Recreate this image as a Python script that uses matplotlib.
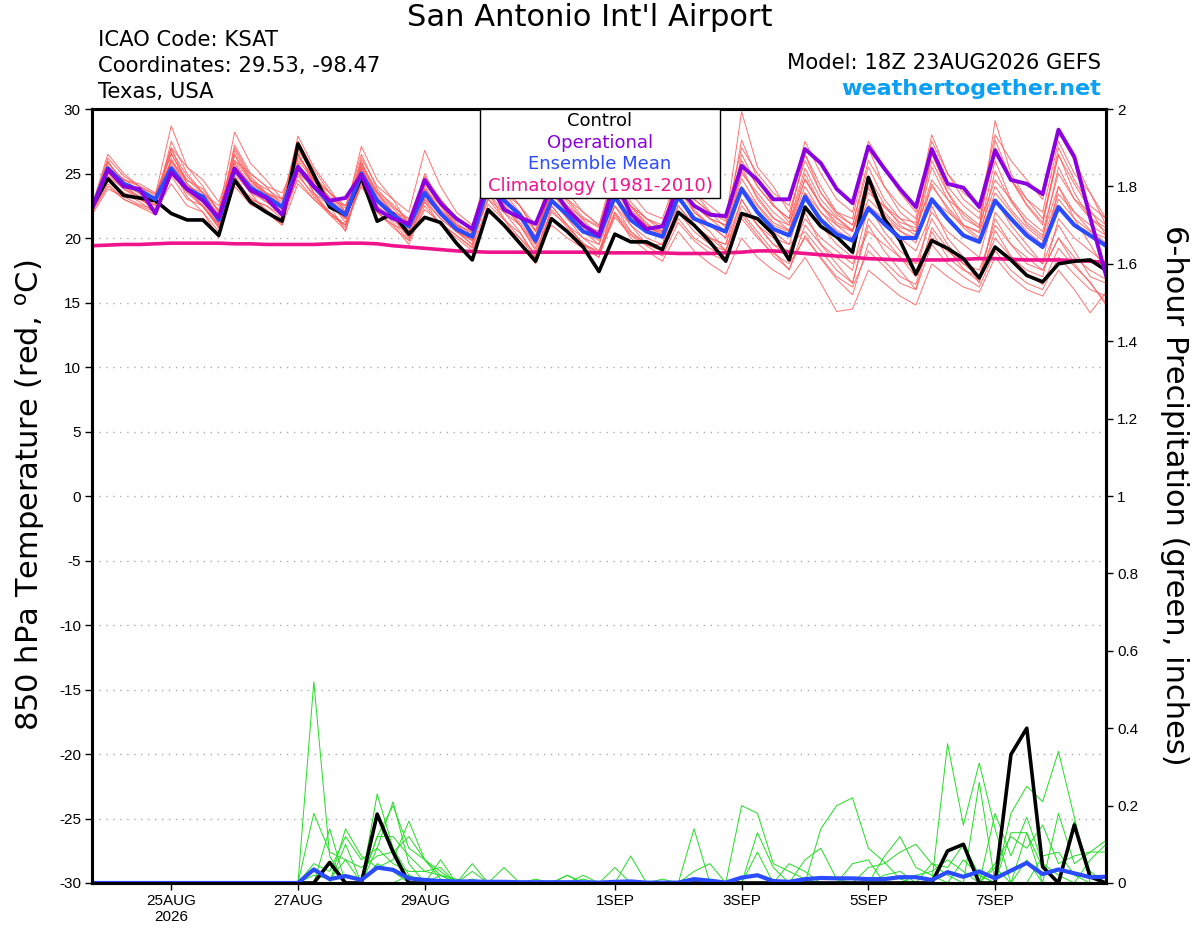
import numpy as np
import matplotlib
matplotlib.use("Agg")
import matplotlib.pyplot as plt
from matplotlib.patches import Rectangle

plt.rcParams['font.family'] = ['Liberation Sans', 'DejaVu Sans']
WIDE = ['DejaVu Sans']

# 6-hourly steps from 18Z 23AUG2026 (hours since start)
hours = np.arange(0, 385, 6)

tick_hours = [30, 78, 126, 198, 246, 294, 342]
tick_labels = ["25AUG\n2026", "27AUG", "29AUG", "1SEP", "3SEP", "5SEP", "7SEP"]

# 850 hPa temperature (C)
control_t = [22.4,
             24.6, 23.3, 23.1, 22.9, 21.9, 21.4, 21.4, 20.2,
             24.5, 22.8, 22.0, 21.3, 27.3, 24.9, 22.4, 21.8,
             24.7, 21.3, 21.9, 20.3, 21.6, 21.2, 19.6, 18.3,
             22.2, 21.0, 19.6, 18.2, 21.5, 20.5, 19.3, 17.4,
             20.3, 19.7, 19.7, 19.1, 22.0, 21.0, 19.7, 18.2,
             21.9, 21.5, 20.3, 18.3, 22.4, 20.9, 20.1, 18.9,
             24.7, 21.5, 19.8, 17.2, 19.8, 19.2, 18.4, 16.9,
             19.3, 18.3, 17.1, 16.6, 18.0, 18.2, 18.3, 17.5]
oper_t = [22.3,
          25.3, 24.0, 23.8, 21.9, 25.1, 23.8, 22.9, 21.6,
          25.4, 23.7, 23.1, 21.8, 25.5, 24.0, 22.9, 23.1,
          24.9, 22.2, 21.5, 21.1, 24.5, 22.7, 21.5, 20.7,
          24.5, 22.2, 21.6, 21.1, 24.0, 22.2, 21.0, 20.2,
          24.5, 21.9, 20.7, 20.9, 24.0, 22.5, 21.8, 21.7,
          25.6, 24.5, 23.0, 23.0, 26.9, 25.8, 23.8, 22.7,
          27.1, 25.4, 23.8, 22.4, 26.9, 24.2, 23.9, 22.4,
          26.8, 24.5, 24.2, 23.4, 28.4, 26.3, 21.6, 17.1]
mean_t = [22.3,
          25.4, 24.2, 23.7, 23.0, 25.4, 23.8, 23.2, 21.4,
          25.3, 23.9, 23.2, 22.4, 25.5, 24.0, 22.7, 21.8,
          25.0, 22.9, 21.8, 20.9, 23.5, 21.9, 20.7, 20.1,
          24.0, 22.9, 21.8, 19.8, 22.9, 21.8, 20.5, 20.1,
          23.2, 21.4, 20.5, 20.1, 23.2, 21.5, 21.0, 20.5,
          23.8, 22.0, 20.7, 20.2, 23.2, 21.4, 20.3, 19.8,
          22.3, 21.1, 20.0, 20.0, 23.0, 21.5, 20.2, 19.7,
          22.9, 21.5, 20.2, 19.3, 22.4, 21.0, 20.2, 19.4]
clim_t = [19.4, 19.45, 19.5, 19.5, 19.55, 19.6, 19.6, 19.6, 19.6, 19.55, 19.55,
          19.5, 19.5, 19.5, 19.5, 19.55, 19.6, 19.6, 19.55, 19.4, 19.3,
          19.2, 19.1, 19.0, 18.95, 18.9, 18.9, 18.9, 18.9, 18.9, 18.9,
          18.9, 18.85, 18.85, 18.85, 18.85, 18.85, 18.8, 18.8, 18.8, 18.85,
          18.9, 19.0, 19.0, 18.9, 18.8, 18.7, 18.6, 18.5, 18.4, 18.35,
          18.3, 18.3, 18.3, 18.3, 18.35, 18.4, 18.4, 18.35, 18.3, 18.3,
          18.3, 18.25, 18.2, 18.1]

member_t = [
    [22.4, 26.2, 24.8, 24.0, 23.3, 28.7, 25.5, 24.0, 22.0, 28.2, 25.8, 24.5, 23.0,
     27.5, 25.3, 23.5, 22.3, 26.5, 23.8, 22.4, 21.5, 24.8, 23.0, 21.5, 20.8,
     25.5, 24.0, 22.5, 20.6, 24.5, 23.0, 21.6, 20.9, 25.0, 22.8, 21.5, 21.0,
     24.8, 23.0, 22.0, 21.3, 29.8, 25.5, 24.0, 22.0, 26.0, 23.5, 21.8, 21.0,
     25.5, 23.0, 21.5, 21.2, 26.0, 23.5, 21.5, 20.8, 29.1, 25.0, 23.0, 21.5,
     26.5, 23.5, 21.5, 20.5],
    [21.8, 23.8, 23.2, 22.6, 22.2, 24.2, 22.5, 22.0, 20.5, 24.0, 22.6, 22.0, 21.0,
     24.2, 23.0, 21.8, 21.0, 24.0, 22.0, 21.0, 19.5, 22.5, 21.0, 20.0, 19.0,
     22.0, 21.0, 20.0, 18.5, 21.5, 20.5, 19.5, 18.8, 21.8, 20.3, 19.5, 19.0,
     21.5, 20.0, 19.2, 18.5, 21.5, 20.0, 18.8, 18.0, 20.0, 18.5, 17.0, 16.2,
     19.0, 17.8, 16.5, 16.0, 19.5, 18.0, 17.0, 16.2, 19.0, 17.5, 16.5, 16.0,
     18.5, 17.2, 16.0, 15.5],
    [22.0, 24.5, 23.5, 22.8, 22.0, 25.0, 23.5, 22.5, 21.0, 24.5, 23.0, 22.5, 21.8,
     25.0, 23.2, 22.0, 20.8, 24.5, 22.0, 20.8, 19.8, 22.8, 21.0, 20.2, 19.3,
     23.5, 21.5, 20.0, 18.8, 21.0, 20.0, 19.2, 18.5, 22.0, 20.0, 19.0, 18.2,
     20.5, 19.0, 18.0, 17.2, 20.0, 18.5, 17.5, 16.8, 18.5, 16.5, 14.3, 14.5,
     17.5, 16.5, 15.5, 14.8, 18.0, 17.0, 16.2, 15.8, 18.5, 17.0, 16.0, 15.5,
     17.5, 16.0, 14.2, 15.8],
    [22.2, 25.8, 24.5, 24.0, 23.4, 26.5, 24.5, 23.8, 22.0, 26.0, 24.5, 23.8, 23.0,
     26.2, 24.8, 23.5, 22.5, 25.8, 23.5, 22.3, 21.0, 24.2, 22.5, 21.0, 20.5,
     25.0, 23.5, 22.5, 20.5, 23.5, 22.5, 21.0, 20.5, 24.5, 22.0, 21.0, 20.5,
     24.0, 22.5, 21.5, 21.0, 25.5, 23.0, 21.5, 21.0, 25.0, 22.5, 21.0, 20.5,
     24.5, 22.0, 20.8, 20.5, 25.5, 23.0, 21.0, 20.5, 26.0, 23.0, 21.0, 20.0,
     25.5, 23.0, 21.5, 20.8],
    [22.5, 26.0, 24.0, 23.5, 22.5, 27.5, 25.0, 23.5, 21.5, 27.0, 24.8, 23.5, 22.5,
     26.8, 25.0, 23.0, 21.5, 26.0, 23.0, 21.5, 20.5, 24.0, 22.0, 20.5, 20.0,
     25.5, 23.5, 22.0, 19.5, 24.0, 22.0, 20.5, 19.8, 24.5, 22.5, 21.0, 20.0,
     24.5, 22.0, 21.0, 20.0, 26.5, 24.0, 22.5, 21.5, 26.5, 24.0, 22.0, 21.0,
     26.0, 24.0, 22.5, 21.5, 27.5, 25.0, 23.0, 22.0, 27.0, 24.5, 23.0, 22.0,
     27.5, 25.0, 23.5, 21.0],
    [22.0, 24.8, 23.8, 23.0, 22.3, 24.8, 23.0, 22.5, 20.8, 25.0, 23.5, 22.8, 22.0,
     24.5, 23.0, 22.0, 21.0, 24.2, 22.0, 21.0, 20.5, 22.8, 21.5, 20.5, 19.8,
     23.0, 22.0, 21.0, 19.0, 22.0, 21.0, 20.0, 19.5, 22.5, 20.5, 19.5, 19.0,
     22.0, 20.5, 19.5, 19.0, 22.5, 21.0, 19.5, 18.5, 21.5, 20.0, 19.0, 18.0,
     20.5, 19.5, 18.5, 17.5, 20.0, 19.0, 18.0, 17.5, 21.0, 19.5, 18.5, 17.5,
     20.0, 18.5, 17.5, 16.8],
    [22.3, 25.5, 24.0, 23.2, 22.8, 26.0, 24.2, 23.0, 21.5, 27.2, 25.0, 24.0, 22.5,
     27.9, 25.5, 23.8, 22.0, 27.1, 24.5, 23.0, 22.0, 26.8, 24.0, 22.0, 21.0,
     25.0, 23.0, 21.5, 20.0, 24.5, 23.0, 22.0, 21.0, 25.5, 23.5, 22.0, 21.5,
     25.0, 23.5, 22.5, 21.5, 27.0, 25.0, 23.5, 22.5, 27.5, 25.0, 23.0, 22.0,
     27.5, 25.5, 23.5, 22.0, 28.0, 25.0, 23.5, 22.5, 28.0, 26.0, 24.5, 23.0,
     28.2, 26.0, 23.5, 21.5],
    [22.1, 24.5, 23.5, 23.0, 22.5, 25.5, 23.2, 22.0, 20.0, 25.5, 23.5, 22.0, 21.0,
     26.5, 24.5, 22.5, 21.5, 24.8, 22.5, 21.5, 20.0, 23.0, 22.0, 20.5, 19.5,
     23.5, 22.0, 20.5, 18.5, 23.0, 21.5, 20.0, 19.0, 22.5, 21.0, 20.0, 19.5,
     23.0, 21.5, 20.5, 19.0, 22.0, 20.5, 19.0, 17.5, 21.0, 19.5, 18.5, 17.5,
     22.5, 20.5, 19.0, 18.0, 21.5, 19.5, 18.0, 17.0, 20.0, 18.5, 17.5, 17.0,
     21.5, 20.0, 19.0, 18.0],
    [22.4, 25.0, 24.5, 24.2, 23.5, 25.8, 24.0, 23.5, 22.5, 25.5, 24.2, 23.5, 23.0,
     25.0, 24.0, 23.0, 22.5, 25.5, 23.0, 22.0, 21.5, 23.8, 22.5, 21.5, 20.5,
     24.5, 23.0, 22.0, 20.5, 23.5, 22.0, 21.0, 20.5, 23.0, 21.5, 21.0, 20.5,
     23.5, 22.5, 21.5, 20.5, 24.0, 22.5, 21.0, 20.5, 23.5, 22.0, 21.0, 20.0,
     22.5, 21.5, 20.5, 20.0, 23.0, 22.0, 21.0, 20.0, 23.5, 22.0, 20.5, 19.5,
     23.0, 21.5, 20.5, 20.0],
    [22.0, 24.2, 23.0, 22.5, 22.0, 25.0, 24.0, 23.0, 21.8, 24.8, 23.0, 22.5, 21.5,
     25.8, 23.5, 22.5, 20.5, 25.0, 23.5, 22.0, 20.0, 23.0, 21.5, 20.5, 19.8,
     23.0, 21.5, 19.5, 18.0, 22.5, 21.0, 19.5, 18.5, 23.0, 21.0, 19.5, 19.5,
     23.5, 21.0, 20.0, 19.0, 23.0, 21.0, 19.5, 19.0, 22.0, 19.5, 18.0, 16.5,
     21.5, 20.0, 18.5, 17.0, 22.5, 20.0, 18.5, 16.5, 22.0, 20.5, 19.0, 18.0,
     21.0, 19.0, 17.0, 16.5],
    [22.3, 25.6, 24.2, 23.8, 23.0, 26.8, 24.8, 23.5, 21.8, 26.5, 24.5, 23.5, 22.8,
     25.5, 24.5, 23.5, 22.0, 25.3, 23.2, 22.0, 21.0, 24.5, 23.0, 21.5, 20.8,
     24.5, 23.0, 22.0, 20.0, 24.0, 22.5, 21.5, 20.8, 24.0, 22.5, 21.5, 20.8,
     25.0, 23.0, 22.0, 21.5, 26.0, 24.0, 22.5, 21.5, 26.5, 23.5, 22.0, 21.5,
     27.0, 24.0, 22.0, 21.0, 26.5, 24.0, 22.5, 21.5, 26.5, 24.5, 22.5, 21.0,
     27.0, 24.5, 22.5, 21.5],
    [22.1, 25.2, 24.0, 23.2, 22.8, 26.0, 24.5, 23.5, 22.2, 25.8, 24.0, 23.0, 22.0,
     25.2, 23.8, 22.5, 21.5, 24.8, 22.8, 21.5, 20.2, 23.2, 21.8, 20.5, 19.5,
     24.0, 22.5, 21.0, 19.5, 22.5, 21.0, 19.5, 19.0, 22.0, 20.5, 19.5, 19.2,
     22.5, 21.0, 20.0, 19.5, 23.0, 21.0, 20.0, 19.5, 20.5, 19.0, 17.5, 16.5,
     21.0, 19.0, 17.5, 16.0, 20.5, 18.5, 17.5, 17.0, 21.5, 19.5, 18.0, 17.5,
     20.0, 18.0, 16.5, 15.0],
    [22.5, 26.5, 25.0, 24.0, 23.0, 27.0, 25.5, 24.5, 22.8, 26.0, 25.0, 24.0, 23.5,
     26.0, 24.5, 23.0, 21.8, 26.2, 24.0, 23.0, 21.0, 25.0, 22.5, 21.0, 20.0,
     25.5, 24.0, 22.5, 21.0, 25.0, 23.5, 22.0, 21.0, 24.0, 22.5, 21.5, 20.5,
     24.5, 22.5, 21.5, 21.0, 25.0, 23.5, 22.0, 21.0, 24.5, 22.5, 21.5, 20.5,
     23.5, 22.5, 21.5, 20.5, 24.5, 23.0, 22.0, 21.0, 24.5, 23.0, 21.5, 20.5,
     25.0, 23.0, 22.0, 21.0],
    [22.2, 25.0, 23.8, 23.2, 22.0, 26.2, 23.8, 22.5, 21.0, 25.2, 23.8, 22.8, 21.8,
     25.8, 23.5, 22.0, 21.0, 25.5, 23.0, 21.5, 20.5, 23.5, 22.0, 20.8, 19.8,
     23.8, 22.5, 21.0, 19.2, 23.0, 21.5, 20.5, 19.5, 23.5, 21.5, 20.5, 20.0,
     22.5, 21.0, 20.0, 19.5, 24.0, 22.0, 20.5, 19.5, 23.5, 21.0, 19.5, 18.5,
     24.0, 21.5, 20.0, 19.0, 22.0, 20.5, 19.5, 18.5, 23.0, 21.0, 19.5, 18.0,
     24.0, 21.5, 19.5, 17.5],
    [22.2, 25.3, 24.6, 23.6, 22.6, 26.6, 24.2, 23.0, 21.2, 26.8, 24.6, 23.2, 22.2,
     26.6, 24.2, 22.8, 21.2, 25.8, 23.6, 22.6, 21.2, 24.4, 22.6, 21.2, 20.2,
     24.8, 23.2, 21.6, 19.8, 24.2, 22.8, 21.4, 20.2, 24.2, 22.2, 21.0, 20.2,
     24.2, 22.2, 21.0, 20.0, 25.2, 23.2, 21.6, 20.6, 24.0, 22.0, 20.6, 19.8,
     23.0, 21.8, 20.6, 19.6, 24.2, 22.2, 20.8, 19.8, 25.2, 22.8, 21.2, 20.2,
     24.0, 22.0, 20.6, 19.6],
    [22.0, 24.0, 23.0, 22.4, 21.8, 25.2, 23.6, 22.4, 20.8, 24.2, 23.2, 22.2, 21.2,
     24.8, 23.4, 21.8, 20.6, 24.4, 22.4, 21.2, 19.8, 22.2, 21.2, 20.2, 19.2,
     22.6, 21.4, 20.4, 18.6, 22.2, 20.8, 19.6, 18.8, 21.6, 20.2, 19.4, 18.6,
     21.2, 19.8, 18.8, 18.2, 21.8, 20.2, 18.6, 17.6, 20.2, 18.4, 16.8, 15.6,
     19.6, 18.2, 17.0, 16.4, 20.8, 19.2, 17.6, 16.6, 20.6, 18.6, 17.2, 16.4,
     19.2, 17.8, 16.6, 14.8],
    [22.3, 25.9, 24.4, 23.4, 23.2, 27.0, 24.2, 23.2, 21.4, 26.4, 24.4, 23.4, 22.6,
     26.4, 24.6, 23.0, 21.8, 25.6, 23.4, 22.0, 21.2, 23.8, 22.2, 21.0, 20.4,
     24.6, 23.2, 21.8, 20.2, 23.4, 22.2, 20.8, 20.0, 23.8, 21.8, 20.8, 20.4,
     23.8, 22.0, 21.0, 20.4, 24.6, 22.6, 21.2, 20.6, 24.6, 22.6, 21.2, 20.6,
     23.8, 22.4, 21.2, 20.8, 24.0, 22.4, 21.0, 20.4, 24.0, 22.2, 20.8, 19.8,
     23.4, 22.0, 21.0, 20.2],
    [22.4, 25.4, 24.2, 23.6, 22.8, 25.6, 23.8, 22.8, 21.0, 25.8, 24.2, 23.0, 22.0,
     25.6, 24.4, 23.2, 22.0, 25.2, 23.0, 21.8, 20.6, 23.6, 22.2, 21.0, 20.0,
     24.2, 22.6, 21.2, 19.6, 23.8, 22.4, 21.2, 20.0, 24.6, 22.4, 21.2, 20.2,
     26.0, 23.6, 22.0, 20.8, 27.6, 24.6, 22.6, 21.2, 25.4, 23.0, 21.6, 20.6,
     24.8, 22.6, 21.0, 20.2, 26.6, 23.6, 21.8, 20.8, 27.6, 24.6, 22.6, 21.2,
     26.4, 24.2, 22.2, 20.2],
]

# 6-hour precipitation (inches)
control_p = [0, 0, 0, 0, 0, 0, 0, 0, 0, 0, 0, 0, 0, 0, 0, 0.053, 0, 0, 0.178, 0.08,
             0, 0, 0, 0, 0, 0, 0, 0, 0, 0, 0, 0, 0, 0, 0, 0, 0, 0, 0, 0,
             0, 0, 0, 0, 0, 0, 0, 0, 0, 0, 0, 0, 0, 0, 0.083, 0.10, 0, 0, 0.332, 0.40,
             0.042, 0.0, 0.15, 0.016, 0]
mean_p = [0, 0, 0, 0, 0, 0, 0, 0, 0, 0, 0, 0, 0, 0, 0.035, 0.01, 0.018, 0.008, 0.04, 0.034,
          0.012, 0.008, 0.005, 0.004, 0.004, 0.003, 0.003, 0.002, 0.002, 0.002, 0.002, 0.002,
          0.001, 0.003, 0.004, 0.001, 0.001, 0.001, 0.01, 0.006, 0.001, 0.014, 0.02, 0.005,
          0.003, 0.01, 0.013, 0.012, 0.012, 0.01, 0.01, 0.015, 0.015, 0.008, 0.028, 0.016,
          0.03, 0.012, 0.032, 0.052, 0.023, 0.035, 0.025, 0.015, 0.016]

member_p = [
    [0, 0, 0, 0, 0, 0, 0, 0, 0, 0, 0, 0, 0, 0, 0.52, 0.07, 0, 0, 0.05, 0.03,
     0, 0, 0, 0, 0, 0, 0, 0, 0, 0, 0, 0, 0, 0, 0, 0, 0, 0, 0, 0,
     0, 0, 0, 0, 0, 0, 0, 0, 0, 0, 0, 0, 0, 0, 0, 0, 0, 0, 0, 0,
     0, 0, 0, 0, 0],
    [0, 0, 0, 0, 0, 0, 0, 0, 0, 0, 0, 0, 0, 0, 0.18, 0.08, 0.06, 0, 0.09, 0.21,
     0.05, 0, 0, 0, 0, 0, 0, 0, 0, 0, 0, 0, 0, 0, 0, 0, 0, 0, 0.14, 0,
     0, 0, 0, 0, 0, 0, 0, 0, 0, 0, 0, 0, 0, 0, 0, 0, 0, 0, 0, 0,
     0, 0, 0, 0, 0],
    [0, 0, 0, 0, 0, 0, 0, 0, 0, 0, 0, 0, 0, 0, 0, 0, 0.14, 0.07, 0.04, 0.06,
     0.16, 0.06, 0.02, 0, 0, 0, 0, 0, 0, 0, 0, 0, 0, 0, 0, 0, 0, 0, 0, 0,
     0, 0, 0, 0, 0, 0, 0, 0, 0, 0, 0, 0, 0, 0, 0, 0, 0, 0, 0, 0,
     0, 0, 0, 0, 0],
    [0, 0, 0, 0, 0, 0, 0, 0, 0, 0, 0, 0, 0, 0, 0, 0.14, 0, 0, 0.23, 0.09,
     0.02, 0, 0.06, 0, 0.05, 0, 0.04, 0, 0, 0, 0, 0, 0, 0, 0, 0, 0, 0, 0, 0,
     0, 0, 0, 0, 0, 0, 0, 0, 0, 0, 0, 0, 0, 0, 0, 0, 0, 0, 0, 0,
     0, 0, 0, 0, 0],
    [0, 0, 0, 0, 0, 0, 0, 0, 0, 0, 0, 0, 0, 0, 0, 0, 0.1, 0, 0.12, 0.2,
     0.09, 0.06, 0.01, 0, 0, 0, 0, 0, 0, 0, 0, 0, 0, 0, 0, 0, 0, 0, 0, 0,
     0, 0, 0, 0, 0, 0, 0, 0, 0, 0, 0, 0, 0, 0, 0, 0, 0, 0, 0, 0,
     0, 0, 0, 0, 0],
    [0, 0, 0, 0, 0, 0, 0, 0, 0, 0, 0, 0, 0, 0, 0.02, 0.01, 0.06, 0.04, 0.07, 0.08,
     0.12, 0.06, 0.03, 0, 0, 0, 0, 0, 0, 0, 0.02, 0, 0, 0, 0, 0, 0, 0, 0, 0,
     0, 0, 0, 0, 0, 0, 0, 0, 0, 0, 0, 0, 0, 0, 0, 0, 0, 0, 0, 0,
     0, 0, 0, 0, 0],
    [0, 0, 0, 0, 0, 0, 0, 0, 0, 0, 0, 0, 0, 0, 0, 0, 0, 0, 0, 0,
     0, 0, 0, 0, 0, 0, 0, 0, 0, 0, 0, 0, 0, 0, 0.07, 0, 0, 0, 0, 0,
     0, 0.2, 0.18, 0.05, 0.03, 0.01, 0, 0, 0, 0, 0, 0, 0, 0, 0.36, 0.15, 0.31, 0.14, 0, 0,
     0, 0, 0, 0, 0],
    [0, 0, 0, 0, 0, 0, 0, 0, 0, 0, 0, 0, 0, 0, 0, 0, 0, 0, 0, 0,
     0, 0, 0, 0, 0, 0, 0, 0, 0, 0, 0, 0, 0, 0, 0, 0, 0, 0, 0.03, 0.05,
     0, 0, 0.13, 0.04, 0, 0, 0, 0, 0, 0, 0, 0, 0, 0, 0, 0, 0.26, 0, 0.18, 0.25,
     0.21, 0.34, 0.17, 0, 0],
    [0, 0, 0, 0, 0, 0, 0, 0, 0, 0, 0, 0, 0, 0, 0, 0, 0, 0, 0, 0,
     0, 0, 0, 0, 0, 0, 0, 0, 0, 0, 0, 0, 0, 0, 0, 0, 0, 0, 0, 0,
     0, 0, 0.08, 0, 0, 0.06, 0.09, 0.01, 0, 0, 0, 0, 0, 0, 0, 0, 0, 0, 0, 0.13,
     0.04, 0, 0, 0, 0],
    [0, 0, 0, 0, 0, 0, 0, 0, 0, 0, 0, 0, 0, 0, 0, 0, 0, 0, 0, 0,
     0, 0, 0, 0, 0, 0, 0, 0, 0, 0, 0, 0, 0, 0, 0, 0, 0, 0, 0, 0,
     0, 0, 0, 0, 0, 0, 0.14, 0.2, 0.22, 0.09, 0.055, 0.01, 0, 0, 0, 0, 0, 0, 0, 0,
     0, 0.18, 0.05, 0.08, 0.11],
    [0, 0, 0, 0, 0, 0, 0, 0, 0, 0, 0, 0, 0, 0, 0, 0, 0, 0, 0, 0,
     0, 0, 0, 0, 0, 0, 0, 0, 0, 0, 0, 0, 0, 0, 0, 0, 0, 0, 0, 0,
     0, 0, 0, 0, 0, 0, 0, 0, 0, 0.04, 0.05, 0.08, 0.10, 0.05, 0.02, 0, 0, 0, 0, 0,
     0, 0, 0, 0, 0],
    [0, 0, 0, 0, 0, 0, 0, 0, 0, 0, 0, 0, 0, 0, 0, 0, 0, 0, 0, 0,
     0, 0, 0, 0, 0, 0, 0, 0, 0, 0, 0, 0, 0, 0, 0, 0, 0, 0, 0, 0,
     0, 0, 0, 0, 0, 0, 0, 0, 0, 0, 0.068, 0.12, 0.04, 0.02, 0, 0, 0, 0.05, 0.12, 0.09,
     0.15, 0.05, 0.07, 0.08, 0.08],
    [0, 0, 0, 0, 0, 0, 0, 0, 0, 0, 0, 0, 0, 0, 0, 0, 0, 0, 0, 0,
     0, 0, 0.02, 0, 0.01, 0, 0, 0, 0, 0, 0.02, 0, 0, 0, 0, 0, 0, 0, 0, 0,
     0, 0, 0, 0, 0, 0, 0, 0, 0, 0, 0, 0, 0.02, 0.03, 0.06, 0.03, 0, 0.18, 0.07, 0.17,
     0.05, 0.02, 0, 0, 0],
    [0, 0, 0, 0, 0, 0, 0, 0, 0, 0, 0, 0, 0, 0, 0, 0, 0, 0, 0, 0,
     0, 0, 0, 0, 0, 0, 0, 0, 0, 0, 0, 0.01, 0, 0, 0, 0, 0.01, 0, 0, 0,
     0, 0, 0, 0, 0, 0, 0, 0, 0.05, 0.06, 0, 0, 0, 0, 0, 0.06, 0.02, 0, 0.13, 0.13,
     0, 0, 0.16, 0.03, 0],
    [0, 0, 0, 0, 0, 0, 0, 0, 0, 0, 0, 0, 0, 0, 0.05, 0.03, 0.12, 0.06, 0.09, 0.05,
     0.03, 0.03, 0.04, 0, 0, 0, 0, 0, 0, 0, 0, 0, 0, 0, 0, 0, 0, 0, 0, 0,
     0, 0, 0, 0, 0, 0, 0, 0, 0, 0, 0, 0, 0, 0, 0, 0, 0, 0, 0, 0,
     0, 0, 0, 0, 0],
    [0, 0, 0, 0, 0, 0, 0, 0, 0, 0, 0, 0, 0, 0, 0, 0, 0, 0, 0.12, 0.12,
     0.07, 0.03, 0.02, 0.01, 0, 0, 0, 0, 0.01, 0, 0, 0, 0, 0, 0, 0, 0, 0, 0, 0,
     0, 0, 0, 0, 0, 0, 0, 0, 0, 0, 0, 0, 0, 0, 0, 0, 0, 0, 0, 0,
     0, 0, 0, 0, 0],
    [0, 0, 0, 0, 0, 0, 0, 0, 0, 0, 0, 0, 0, 0, 0, 0, 0, 0, 0, 0,
     0, 0, 0, 0, 0, 0, 0, 0, 0, 0, 0, 0, 0, 0, 0, 0, 0, 0, 0, 0,
     0, 0, 0, 0, 0.05, 0.03, 0, 0, 0, 0, 0, 0, 0, 0.05, 0.04, 0.1, 0.02, 0, 0, 0,
     0.07, 0.08, 0.02, 0, 0],
    [0, 0, 0, 0, 0, 0, 0, 0, 0, 0, 0, 0, 0, 0, 0, 0, 0, 0, 0, 0,
     0.02, 0, 0, 0, 0.03, 0, 0, 0, 0, 0, 0, 0.02, 0, 0.04, 0, 0, 0, 0, 0, 0,
     0, 0, 0, 0, 0, 0, 0, 0, 0, 0, 0.02, 0.03, 0, 0, 0, 0, 0, 0.04, 0, 0.06,
     0, 0, 0, 0.06, 0.1],
]

fig = plt.figure(figsize=(12, 9.27), dpi=100)
ax = fig.add_axes([92 / 1200, 1 - 883 / 927, 1014 / 1200, 774 / 927])
ax2 = ax.twinx()

for m in member_t:
    ax.plot(hours, m, color='#ff5a5a', lw=0.7, alpha=0.85)
ax.plot(hours, clim_t, color='#f0148c', lw=2.6)
ax.plot(hours, control_t, color='black', lw=2.6)
ax.plot(hours, mean_t, color='#2a4bff', lw=3)
ax.plot(hours, oper_t, color='#8a00e0', lw=2.8)

for m in member_p:
    ax2.plot(hours, m, color='#22dd22', lw=0.7)
ax2.plot(hours, control_p, color='black', lw=2.6)
ax2.plot(hours, mean_p, color='#2a4bff', lw=3)

ax.set_xlim(0, 384)
ax.set_ylim(-30, 30)
ax2.set_ylim(0, 2)

ax.set_yticks(np.arange(-30, 31, 5))
ax.set_yticklabels([str(v) for v in range(-30, 31, 5)])
ax2.set_yticks(np.arange(0, 2.01, 0.2))
ax2.set_yticklabels(['%g' % round(v, 1) for v in np.arange(0, 2.01, 0.2)])
ax.set_xticks(tick_hours)
ax.set_xticklabels(tick_labels)

ax.tick_params(axis='both', direction='out', length=5, width=1, labelsize=11, pad=3)
ax2.tick_params(axis='y', direction='out', length=5, width=1, labelsize=11, pad=3)

ax.grid(axis='y', linestyle=(0, (1, 4)), color='#aaaaaa', lw=1)
for sp in ax2.spines.values():
    sp.set_linewidth(2.2)
for sp in ax.spines.values():
    sp.set_linewidth(2.2)

# legend box
ax2.add_patch(Rectangle((0.3826, 0.885), 0.2367, 0.1152, transform=ax2.transAxes,
                        facecolor='white', edgecolor='black', lw=1, zorder=10))
leg = [("Control", 'black'), ("Operational", '#8a00e0'),
       ("Ensemble Mean", '#2a4bff'), ("Climatology (1981-2010)", '#f0148c')]
for k, (txt, col) in enumerate(leg):
    ax2.text(0.501, 1 - (12 + 21.5 * k) / 774, txt, color=col, fontsize=13,
             family=WIDE, ha='center', va='center', transform=ax2.transAxes, zorder=11)

fig.text(0.4917, 1 - 18 / 927, "San Antonio Int'l Airport", fontsize=22, family=WIDE,
         ha='center', va='center')
for k, line in enumerate(["ICAO Code: KSAT", "Coordinates: 29.53, -98.47", "Texas, USA"]):
    fig.text(98 / 1200, 1 - (40 + 26 * k) / 927, line, fontsize=15.2, family=WIDE,
             va='center')
fig.text(1101 / 1200, 1 - 63 / 927, "Model: 18Z 23AUG2026 GEFS", fontsize=15.2,
         family=WIDE, ha='right', va='center')
fig.text(1101 / 1200, 1 - 89 / 927, "weathertogether.net", fontsize=16, family=WIDE,
         fontweight='bold', color='#0aa0f5', ha='right', va='center')

fig.text(30 / 1200, 1 - 495 / 927, r"850 hPa Temperature (red, $^\mathregular{o}$C)",
         fontsize=22, family=WIDE, rotation=90, ha='center', va='center')
fig.text(1175 / 1200, 1 - 495 / 927, "6-hour Precipitation (green, inches)",
         fontsize=22, family=WIDE, rotation=270, ha='center', va='center')

fig.savefig("out.png", dpi=100)
